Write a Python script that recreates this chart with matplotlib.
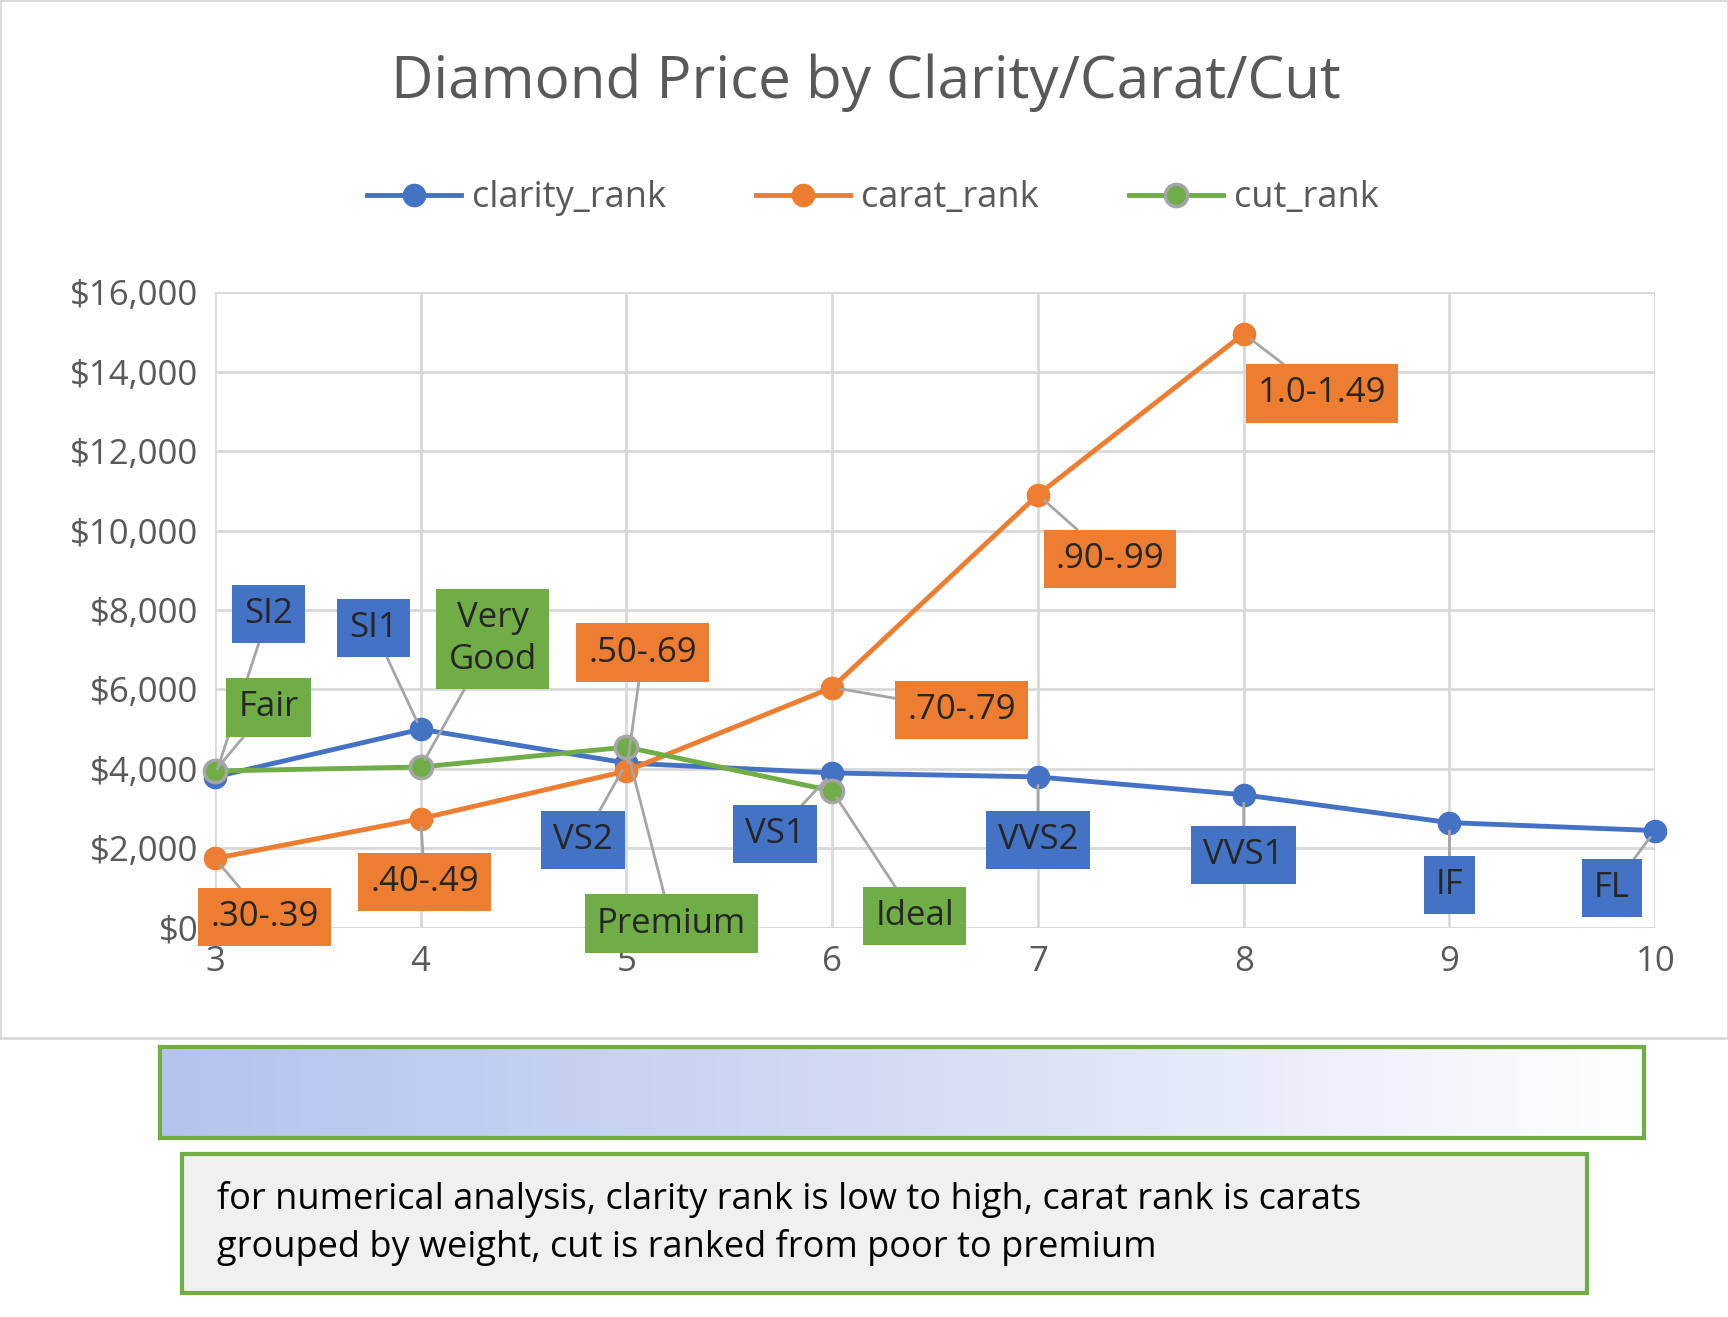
import matplotlib.pyplot as plt
import numpy as np
from matplotlib.patches import Rectangle
from matplotlib.colors import LinearSegmentedColormap

plt.rcParams['font.family'] = ['Open Sans', 'DejaVu Sans']

BLUE = '#4472C4'
ORANGE = '#ED7D31'
GREEN = '#70AD47'
GRID = '#D9D9D9'
TXT = '#595959'

clarity_x = [3, 4, 5, 6, 7, 8, 9, 10]
clarity_y = [3800, 5000, 4150, 3900, 3800, 3350, 2650, 2450]
clarity_lbl = ['SI2', 'SI1', 'VS2', 'VS1', 'VVS2', 'VVS1', 'IF', 'FL']
clarity_pos = [(3.26, 7900), (3.77, 7540), (4.79, 2220), (5.72, 2360),
               (7.0, 2220), (8.0, 1830), (9.0, 1080), (9.79, 1000)]

carat_x = [3, 4, 5, 6, 7, 8]
carat_y = [1750, 2750, 3950, 6050, 10900, 14950]
carat_lbl = ['.30-.39', '.40-.49', '.50-.69', '.70-.79', '.90-.99', '1.0-1.49']
carat_pos = [(3.24, 280), (4.02, 1160), (5.08, 6930), (6.63, 5490),
             (7.35, 9290), (8.38, 13450)]

cut_x = [3, 4, 5, 6]
cut_y = [3950, 4050, 4550, 3450]
cut_lbl = ['Fair', 'Very\nGood', 'Premium', 'Ideal']
cut_pos = [(3.26, 5550), (4.35, 7270), (5.22, 110), (6.40, 300)]

fig = plt.figure(figsize=(17.28, 13.17), dpi=100)

# chart frame
fig.patches.append(Rectangle((0.0, 1 - 942 / 1195), 1.0, 942 / 1195, transform=fig.transFigure,
                             facecolor='white', edgecolor=GRID, linewidth=2, zorder=-5))

ax = fig.add_axes([195 / 1568, 1 - 842 / 1195, (1502 - 195) / 1568, (842 - 265) / 1195])
ax.patch.set_alpha(0)
ax.set_xlim(3, 10)
ax.set_ylim(0, 16000)
ax.set_xticks(range(3, 11))
ax.set_yticks(range(0, 16001, 2000))
ax.set_yticklabels([f'${v:,}' for v in range(0, 16001, 2000)])
ax.grid(True, color=GRID, linewidth=2)
ax.set_axisbelow(True)
for s in ax.spines.values():
    s.set_visible(False)
ax.axhline(0, color=GRID, linewidth=2, zorder=1)
ax.tick_params(length=0, labelsize=25, labelcolor=TXT, pad=12)

ax.plot(clarity_x, clarity_y, '-o', color=BLUE, lw=3.5, ms=16, label='clarity_rank', zorder=3, clip_on=False)
ax.plot(carat_x, carat_y, '-o', color=ORANGE, lw=3.5, ms=16, label='carat_rank', zorder=3, clip_on=False)
ax.plot(cut_x, cut_y, '-o', color=GREEN, lw=3.5, ms=16, mec='#A5A5A5', mew=2.5,
        label='cut_rank', zorder=4, clip_on=False)

def labels(xs, ys, lbls, pos, color, tc):
    for x, y, l, p in zip(xs, ys, lbls, pos):
        ax.annotate(l, xy=(x, y), xytext=p, ha='center', va='center', fontsize=25, color=tc,
                    linespacing=1.3, zorder=5, annotation_clip=False,
                    bbox=dict(boxstyle='square,pad=0.35', fc=color, ec='none'),
                    arrowprops=dict(arrowstyle='-', color='#A5A5A5', lw=2, shrinkA=0, shrinkB=6))

labels(clarity_x, clarity_y, clarity_lbl, clarity_pos, BLUE, '#262626')
labels(carat_x, carat_y, carat_lbl, carat_pos, ORANGE, '#262626')
labels(cut_x, cut_y, cut_lbl, cut_pos, GREEN, '#262626')

fig.text(786 / 1568, 1 - 75 / 1195, 'Diamond Price by Clarity/Carat/Cut', ha='center', va='center',
         fontsize=42, color=TXT)
fig.legend(loc='center', bbox_to_anchor=(792 / 1568, 1 - 180 / 1195), ncol=3, frameon=False,
           fontsize=26, labelcolor=TXT, handlelength=2.6, columnspacing=2.5, handletextpad=0.3)

# gradient bar
gax = fig.add_axes([145 / 1568, 1 - 1033 / 1195, (1492 - 145) / 1568, 83 / 1195])
grad = np.linspace(0, 1, 256).reshape(1, -1)
cmap = LinearSegmentedColormap.from_list('g', ['#B4C3EE', '#D4DCF4', '#FFFFFF'])
gax.imshow(grad, aspect='auto', cmap=cmap, extent=(0, 1, 0, 1))
gax.set_xticks([]); gax.set_yticks([])
for s in gax.spines.values():
    s.set_color(GREEN); s.set_linewidth(3)

# text box
fig.patches.append(Rectangle((165 / 1568, 1 - 1173 / 1195), (1440 - 165) / 1568, 126 / 1195,
                             transform=fig.transFigure, facecolor='#F0F0F0', edgecolor=GREEN, linewidth=3))
fig.text(197 / 1568, 1 - 1110 / 1195,
         'for numerical analysis, clarity rank is low to high, carat rank is carats\n'
         'grouped by weight, cut is ranked from poor to premium',
         ha='left', va='center', fontsize=26, color='black', linespacing=1.4)

fig.savefig('out.png', dpi=100, facecolor='white')
